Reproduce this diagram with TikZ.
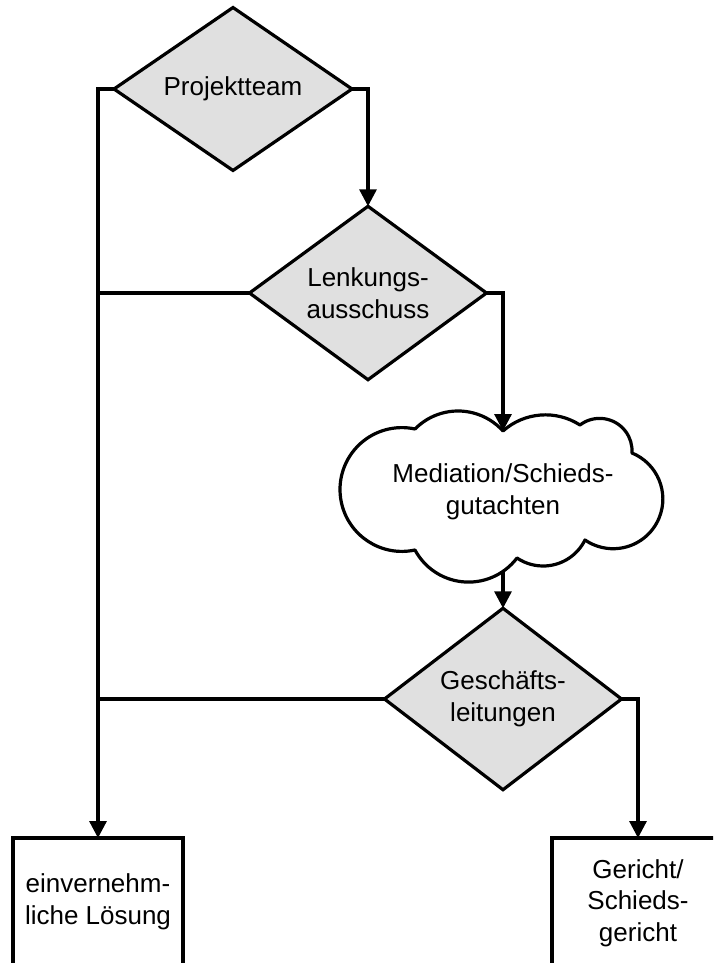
\documentclass[tikz,border=0pt]{standalone}
\usepackage{fontspec}
\setmainfont{Liberation Sans}
\usetikzlibrary{shapes.geometric,arrows.meta}
\definecolor{decisionfill}{RGB}{224,224,224}
\begin{document}
\begin{tikzpicture}[x=1pt,y=-1pt,
  line width=3.2pt,
  font=\fontsize{26}{31.5}\selectfont,
  decision/.style={diamond, draw, fill=decisionfill, minimum width=237pt,
    minimum height=150pt, inner sep=0pt, outer sep=0pt, align=center},
  endbox/.style={rectangle, draw, anchor=north, minimum height=140pt,
    inner sep=0pt, outer sep=0pt},
  boxtext/.style={align=center, inner sep=0pt},
  flow/.style={-{Triangle[length=17pt,width=17pt]}}
]
\clip (0,0) rectangle (713,963);

% decision diamonds
\node[decision, minimum width=238pt, minimum height=152pt] (d1) at (233,89) {Projektteam};
\node[decision] (d2) at (368,293) {Lenkungs-\\ausschuss};
\node[decision] (d3) at (503,699) {Geschäfts-\\leitungen};

% cloud for mediation / expert opinion, built from circular puffs
\draw[line join=round] (415,429)
  arc[start angle=224.6, end angle=318.0, radius=60.47]
  arc[start angle=228.33, end angle=302.75, radius=63.85]
  arc[start angle=232.79, end angle=363.82, radius=32.45]
  arc[start angle=292.28, end angle=484.48, radius=49.72]
  arc[start angle=26.25, end angle=124.09, radius=46.66]
  arc[start angle=37.10, end angle=151.87, radius=60.73]
  arc[start angle=77.78, end angle=282.22, radius=61.9]
  -- cycle;
\node[boxtext] (cloudtext) at (503,492) {Mediation/Schieds-\\gutachten};
\coordinate (cloudin) at (503,431);
\coordinate (cloudout) at (503,572);

% outcome boxes
\node[endbox, minimum width=170pt] (lbox) at (98,838) {};
\node[boxtext] (ltext) at (98,902) {einvernehm-\\liche Lösung};
\node[endbox, minimum width=172pt] (rbox) at (638,838) {};
\node[boxtext] (rtext) at (638,903) {Gericht/\\Schieds-\\gericht};

% connectors
\draw[flow] (d1.west) -| (lbox.north);
\draw (d2.west) -- (d2.west -| lbox.north);
\draw (d3.west) -- (d3.west -| lbox.north);
\draw[flow] (d1.east) -| (d2.north);
\draw[flow] (d2.east) -| (cloudin);
\draw[flow] (cloudout) -- (d3.north);
\draw[flow] (d3.east) -| (rbox.north);
\end{tikzpicture}
\end{document}
